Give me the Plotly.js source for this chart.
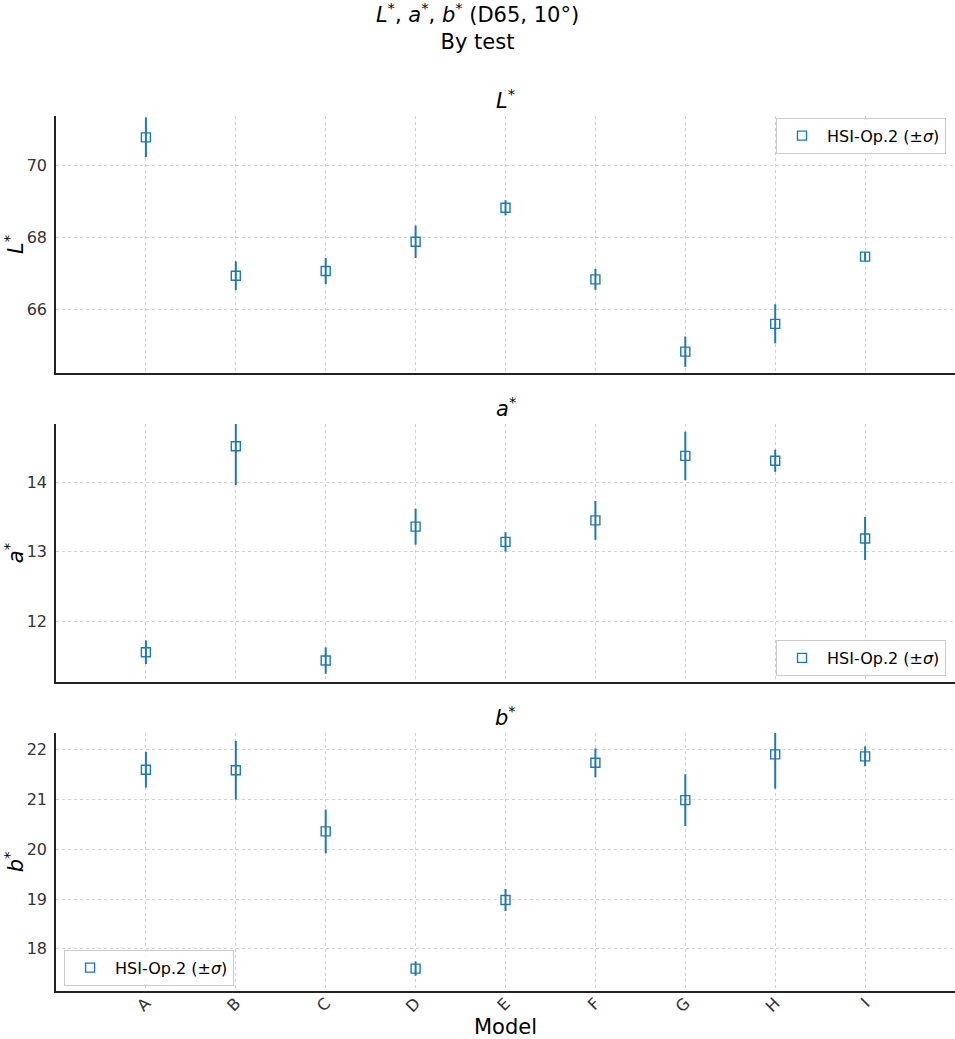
<!DOCTYPE html>
<html>
<head>
<meta charset="utf-8">
<script src="https://cdn.plot.ly/plotly-3.0.1.min.js"></script>
<style>
  body { margin: 0; padding: 0; background: #fff; }
  #graph { width: 955px; height: 1039px; }
</style>
</head>
<body>
<div id="graph"></div>
<script>
// values
const models = ['A', 'B', 'C', 'D', 'E', 'F', 'G', 'H', 'I'];

const lStar = [70.77, 66.94, 67.07, 67.88, 68.82, 66.84, 64.84, 65.61, 67.47];
const lSd   = [0.55, 0.40, 0.36, 0.45, 0.21, 0.29, 0.42, 0.54, 0.12];

const aStar = [11.55, 14.52, 11.43, 13.36, 13.14, 13.45, 14.38, 14.31, 13.19];
const aSd   = [0.17, 0.56, 0.19, 0.26, 0.14, 0.28, 0.35, 0.16, 0.31];

const bStar = [21.60, 21.59, 20.36, 17.60, 18.98, 21.74, 20.99, 21.91, 21.87];
const bSd   = [0.36, 0.59, 0.44, 0.145, 0.22, 0.29, 0.52, 0.69, 0.20];

const seriesName = 'HSI-Op.2 (±<i>σ</i>)';
const blue = '#1f77b4';
const font = 'DejaVu Sans, sans-serif';

function makeTrace(y, sd, ax, legend) {
    return {
        x: models,
        y: y,
        type: 'scatter',
        mode: 'markers',
        name: seriesName,
        xaxis: ax[0],
        yaxis: ax[1],
        legend: legend,
        marker: {
            symbol: 'square-open',
            size: 9,
            color: blue,
            line: { width: 1.4, color: blue }
        },
        error_y: {
            type: 'data',
            array: sd,
            visible: true,
            color: blue,
            thickness: 2,
            width: 0
        },
        hoverinfo: 'x+y'
    };
}

const traces = [
    makeTrace(lStar, lSd, ['x', 'y'], 'legend'),
    makeTrace(aStar, aSd, ['x2', 'y2'], 'legend2'),
    makeTrace(bStar, bSd, ['x3', 'y3'], 'legend3')
];

function xAxis(anchor, showLabels) {
    return {
        anchor: anchor,
        type: 'category',
        range: [-1, 9],
        showgrid: true,
        gridcolor: '#d2d2d2',
        griddash: '3px,3px',
        gridwidth: 0.8,
        showline: true,
        linecolor: '#222',
        linewidth: 1.5,
        zeroline: false,
        ticks: '',
        showticklabels: showLabels,
        tickangle: -45,
        ticklabelstandoff: -5,
        tickfont: { family: font, size: 16, color: '#333' },
        automargin: false
    };
}

function yAxis(anchor, domain, range, dtick, label) {
    return {
        anchor: anchor,
        domain: domain,
        range: range,
        dtick: dtick,
        showgrid: true,
        gridcolor: '#d2d2d2',
        griddash: '3px,3px',
        gridwidth: 0.8,
        showline: true,
        linecolor: '#222',
        linewidth: 1.5,
        zeroline: false,
        ticks: '',
        ticklabelstandoff: 4,
        tickfont: { family: font, size: 16, color: '#333' },
        title: { text: label, font: { family: font, size: 21, color: '#000' }, standoff: 6 },
        automargin: false
    };
}

const legendBase = {
    bgcolor: 'rgba(255,255,255,0.8)',
    bordercolor: '#cccccc',
    borderwidth: 1,
    font: { family: font, size: 16, color: '#000' },
    itemwidth: 40,
    xref: 'paper',
    yref: 'paper'
};

const layout = {
    width: 955,
    height: 1039,
    margin: { l: 56, r: 0, t: 116, b: 48, pad: 0 },
    paper_bgcolor: '#fff',
    plot_bgcolor: '#fff',
    font: { family: font, color: '#000' },
    showlegend: true,
    title: {
        text: '<i>L</i><sup>*</sup>, <i>a</i><sup>*</sup>, <i>b</i><sup>*</sup> (D65, 10°)<br>By test',
        font: { family: font, size: 21, color: '#000' },
        x: 0.5,
        xref: 'container',
        y: 0.979,
        yref: 'container',
        yanchor: 'top'
    },
    xaxis: xAxis('y', false),
    xaxis2: xAxis('y2', false),
    xaxis3: Object.assign(xAxis('y3', true), {
        title: { text: 'Model', font: { family: font, size: 21, color: '#000' }, standoff: 4 }
    }),
    yaxis: yAxis('x', [0.7063, 1], [64.25, 71.36], 2, '<i>L</i><sup>*</sup>'),
    yaxis2: yAxis('x2', [0.3531, 0.648], [11.12, 14.84], 1, '<i>a</i><sup>*</sup>'),
    yaxis3: yAxis('x3', [0, 0.2949], [17.15, 22.34], 1, '<i>b</i><sup>*</sup>'),
    legend: Object.assign({}, legendBase, { x: 0.99, y: 0.998, xanchor: 'right', yanchor: 'top' }),
    legend2: Object.assign({}, legendBase, { x: 0.99, y: 0.36, xanchor: 'right', yanchor: 'bottom' }),
    legend3: Object.assign({}, legendBase, { x: 0.009, y: 0.006, xanchor: 'left', yanchor: 'bottom' }),
    annotations: [
        { text: '<i>L</i><sup>*</sup>', y: 1, yanchor: 'bottom' },
        { text: '<i>a</i><sup>*</sup>', y: 0.648, yanchor: 'bottom' },
        { text: '<i>b</i><sup>*</sup>', y: 0.2949, yanchor: 'bottom' }
    ].map(a => Object.assign({
        x: 0.5,
        xref: 'paper',
        yref: 'paper',
        xanchor: 'center',
        yshift: 1,
        showarrow: false,
        font: { family: font, size: 21, color: '#000' }
    }, a))
};

Plotly.newPlot('graph', traces, layout, { displayModeBar: false, responsive: false });
</script>
</body>
</html>
